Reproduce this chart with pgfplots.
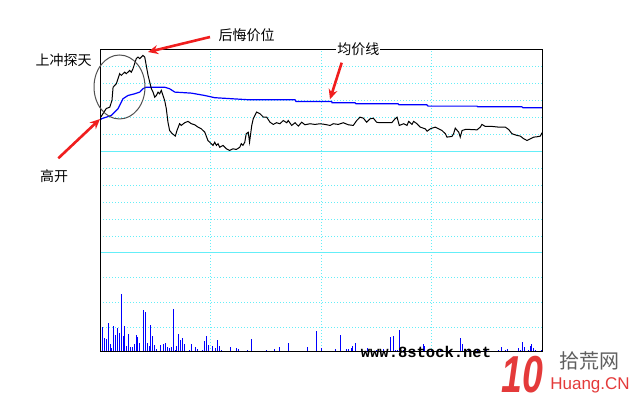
\documentclass[border=0pt]{standalone}
\usepackage{graphicx}
\usepackage{pgfplots}
\pgfplotsset{compat=1.18}
\usepackage{fontspec}
\setmainfont{Liberation Sans}
\newfontfamily\cjk{Noto Sans CJK SC}
\newfontfamily\mono{Liberation Mono}
\usetikzlibrary{arrows.meta}
\definecolor{gridc}{RGB}{100,238,248}
\definecolor{avgblue}{RGB}{0,0,255}
\definecolor{arrowred}{RGB}{240,30,30}
\definecolor{logored}{RGB}{228,58,58}
\definecolor{logogray}{RGB}{95,95,95}

\pgfplotsset{
  chartbox/.style={
    scale only axis, width=442pt, xmin=0, xmax=240,
    xtick={60,120,180}, xticklabels={}, yticklabels={},
    major tick length=0pt, axis line style={draw=none},
    grid=major,
    major grid style={gridc, line width=1pt, dash pattern=on 1pt off 2pt},
  },
}

\begin{document}
\begin{tikzpicture}
\path[use as bounding box, fill=white] (0pt,0pt) rectangle (644pt,403pt);

% price panel: units are grid steps above / below the previous close
\begin{axis}[chartbox, at={(100pt,150pt)}, height=203pt,
    ymin=-6, ymax=6, ytick={-5,-4,-3,-2,-1,1,2,3,4,5}]
\draw[gridc, line width=1pt] (axis cs:0,0) -- (axis cs:240,0);
\draw[gridc, line width=1pt] (axis cs:0,-6) -- (axis cs:240,-6);
% average price
\addplot[avgblue, line width=1.2pt] coordinates {
 (0,1.83) (0.7,1.93) (6.1,2.13) (9.8,2.53) (12.5,3.12) (15.2,3.31) (18.8,3.41)
 (21.6,3.51) (23.3,3.71) (25.1,3.80) (35.1,3.80) (37.8,3.71) (40.6,3.51)
 (49.6,3.45) (56.9,3.31) (62.3,3.18) (71.3,3.12) (80.4,3.06) (105.9,3.06)
 (106.4,2.96) (125.8,2.96) (126.0,2.88) (138.5,2.88) (139.0,2.82) (161.8,2.82)
 (162.3,2.76) (177.5,2.76) (178.1,2.68) (204.7,2.68) (205.2,2.64) (229.1,2.64)
 (229.6,2.59) (240,2.59)
};
% price
\addplot[black, line width=1pt] coordinates {
 (0.3,2.01) (3.4,2.54) (5.3,2.62) (6.5,3.02) (7.1,3.80) (8.9,4.01) (10.7,4.60)
 (11.6,4.50) (13.4,4.69) (14.3,4.60) (16.1,4.79) (17.0,4.69) (17.9,4.89)
 (19.7,5.49) (20.6,5.58) (21.6,5.49) (23.3,5.68) (24.3,5.58) (25.1,5.09)
 (26.1,4.50) (27.0,4.10) (27.9,3.71) (28.8,3.51) (29.7,3.21) (30.6,3.31)
 (31.5,3.51) (32.4,3.41) (33.3,3.61) (34.2,3.31) (35.1,3.02) (36.0,2.53)
 (36.9,1.73) (37.8,1.24) (39.1,1.07) (40.9,0.91) (41.8,1.24) (43.2,1.64)
 (44.1,1.54) (46.0,1.70) (47.8,1.78) (49.6,1.64) (51.4,1.58) (53.2,1.44)
 (55.0,1.34) (56.9,1.14) (58.6,0.65) (60.4,0.46) (61.4,0.36) (62.3,0.55)
 (63.2,0.36) (64.1,0.46) (65.0,0.25) (66.8,0.36) (68.6,0.16) (70.4,0.06)
 (72.2,0.16) (74.0,0.12) (75.9,0.25) (76.7,0.46) (77.6,0.36) (78.6,0.55)
 (79.4,1.05) (80.5,1.14) (81.2,0.55) (82.4,1.54) (83.2,1.93) (85.0,2.33)
 (86.9,2.23) (88.7,2.03) (90.5,2.03) (92.3,1.73) (94.1,1.60) (95.9,1.70)
 (97.7,1.64) (99.5,1.83) (101.4,1.70) (102.2,1.83) (104.1,1.54) (105.9,1.70)
 (107.7,1.50) (109.5,1.73) (111.3,1.58) (114.0,1.64) (116.7,1.60) (119.5,1.64)
 (122.2,1.60) (124.9,1.54) (126.7,1.64) (129.4,1.60) (132.1,1.70) (134.8,1.58)
 (137.5,1.54) (139.4,1.83) (141.2,2.03) (143.0,1.97) (144.8,1.73) (146.6,1.93)
 (148.4,1.97) (150.2,1.73) (152.0,1.70) (154.8,1.70) (158.4,1.70) (160.2,1.93)
 (161.3,2.03) (162.5,1.54) (164.9,1.64) (166.7,1.54) (167.6,1.78) (169.4,1.60)
 (170.3,1.78) (172.1,1.64) (173.9,1.44) (176.6,1.34) (177.6,1.20) (179.4,1.34)
 (180.3,1.38) (182.1,1.44) (183.9,1.34) (185.7,1.24) (187.5,1.05) (188.4,0.85)
 (191.1,0.89) (192.0,1.05) (192.9,1.38) (194.8,1.14) (195.6,0.85) (196.6,1.24)
 (198.3,1.30) (201.1,1.30) (204.7,1.28) (206.5,1.44) (207.4,1.60) (209.2,1.48)
 (212.9,1.48) (216.5,1.44) (220.1,1.44) (221.9,1.30) (223.7,1.05) (226.4,0.95)
 (228.2,0.91) (230.1,0.75) (231.9,0.65) (233.7,0.75) (235.5,0.85) (237.3,0.87)
 (239.1,0.91) (240.0,1.11)
};
\end{axis}

% volume panel
\begin{axis}[chartbox, at={(100pt,51pt)}, height=99pt,
    ymin=0, ymax=4, ytick={1,2,3}]
\addplot[ycomb, avgblue, line width=1pt] coordinates {
 (1.1,1.00) (2.2,0.58) (3.3,0.54) (4.5,1.19) (5.6,0.34) (6.0,0.15) (7.2,1.06)
 (8.3,0.70) (9.4,0.98) (10.5,0.78) (11.6,2.36) (12.7,0.66) (13.2,1.06)
 (14.3,0.26) (15.4,0.74) (16.5,0.22) (17.6,0.22) (18.6,0.34) (19.7,0.70)
 (20.3,0.62) (21.4,0.38) (23.5,1.71) (24.6,1.63) (25.7,0.38) (26.8,0.26)
 (27.3,1.10) (28.4,0.66) (29.5,0.30) (30.6,0.13) (32.8,0.30) (34.4,0.34)
 (35.5,0.38) (36.6,0.22) (37.6,0.18) (38.7,0.22) (39.8,1.75) (40.9,0.09)
 (41.4,0.26) (42.5,0.74) (43.6,0.50) (44.7,0.58) (45.8,0.34) (46.9,0.05)
 (48.0,0.05) (48.5,0.09) (49.6,0.34) (50.7,0.05) (51.8,0.22) (52.9,0.13)
 (54.5,0.05) (55.6,0.09) (56.7,0.46) (57.7,0.66) (58.8,0.30) (61.0,0.26)
 (62.6,0.18) (63.7,0.50) (64.8,0.26) (65.9,0.09) (67.0,0.05) (68.6,0.05)
 (70.8,0.22) (71.9,0.05) (72.9,0.05) (74.0,0.18) (75.1,0.13) (75.7,0.05)
 (77.8,0.05) (80.0,0.09) (80.9,0.05) (82.5,0.54) (84.7,0.05) (85.8,0.05)
 (90.6,0.09) (95.0,0.13) (97.7,0.22) (102.6,0.38) (110.7,0.05) (111.8,0.05)
 (112.9,0.22) (116.7,0.05) (117.8,0.86) (120.0,0.18) (125.9,0.05) (127.0,0.05)
 (128.1,0.13) (129.2,0.05) (130.8,0.70) (134.1,0.13) (135.2,0.13) (136.3,0.18)
 (137.3,0.26) (139.0,0.38) (142.0,0.13) (145.0,0.18) (150.0,0.09) (154.0,0.13)
 (158.0,0.62) (159.3,0.66) (160.4,0.09) (161.5,0.09) (162.6,0.90) (165.0,0.10)
 (170.0,0.13) (175.4,0.32) (176.3,0.26) (180.0,0.09) (185.0,0.13) (190.0,0.10)
 (195.6,0.56) (196.8,0.32) (200.0,0.13) (205.0,0.09) (210.0,0.10) (213.8,0.05)
 (214.9,0.05) (216.5,0.09) (218.1,0.22) (219.2,0.05) (220.3,0.09) (221.4,0.13)
 (224.7,0.05) (227.4,0.18) (228.5,0.09) (229.6,0.42) (230.6,0.22) (232.8,0.09)
 (233.9,0.26) (234.4,0.34) (235.5,0.18) (236.6,0.09) (239.6,0.09)
};
\end{axis}

\begin{scope}[x=1pt, y=1pt]
\draw[black, line width=1pt] (100,51) rectangle (542,353);
% annotations
\draw[color={rgb,255:red,80;green,80;blue,80}, line width=1pt] (119.5,316) ellipse [x radius=25.5, y radius=32];
\draw[arrowred, line width=2.6pt, -{Stealth[length=10pt,width=9pt]}] (210,366) -- (148,351);
\draw[arrowred, line width=2.6pt, -{Stealth[length=10pt,width=9pt]}] (341.7,340.3) -- (330,303.7);
\draw[arrowred, line width=2.6pt, -{Stealth[length=10pt,width=9pt]}] (58.3,244.7) -- (100,284);
\node[font=\cjk\fontsize{14}{14}\selectfont] at (63.5,343) {上冲探天};
\node[font=\cjk\fontsize{14}{14}\selectfont] at (246.7,368) {后悔价位};
\node[font=\cjk\fontsize{14}{14}\selectfont, fill=white, inner sep=1pt] at (358.3,353.5) {均价线};
\node[font=\cjk\fontsize{14}{14}\selectfont] at (54,227) {高开};
% watermark
\node[font=\mono\bfseries\fontsize{15.5}{16}\selectfont] at (426,51) {www.8stock.net};
\node[font=\bfseries\itshape\fontsize{52}{52}\selectfont, text=logored, inner sep=0pt] at (522,28) {\scalebox{0.72}[1]{10}};
\node[font=\cjk\fontsize{20}{20}\selectfont, text=logogray, inner sep=0pt] at (589,42) {拾荒网};
\node[font=\fontsize{17}{17}\selectfont, text=logored, inner sep=0pt] at (590,18) {Huang.CN};
\end{scope}
\end{tikzpicture}
\end{document}
